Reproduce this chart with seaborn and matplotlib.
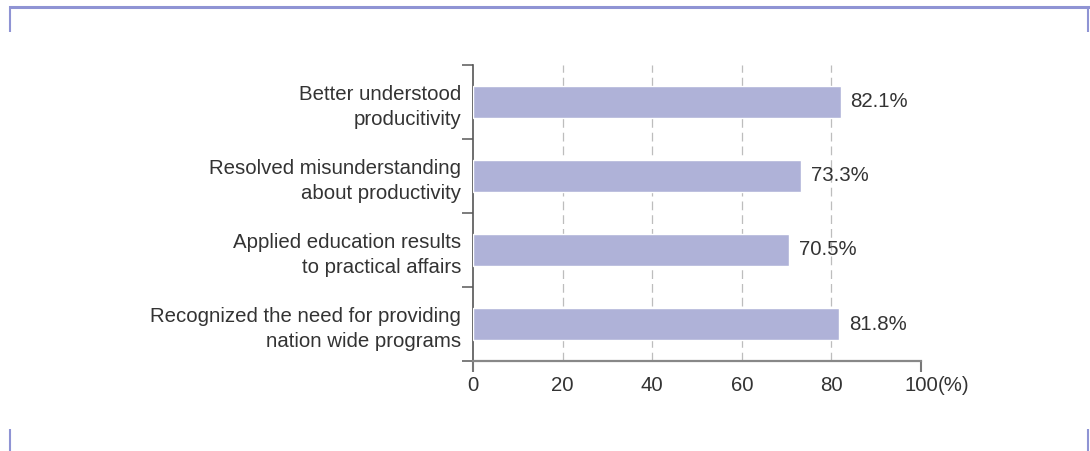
import matplotlib
matplotlib.use("Agg")
import matplotlib.pyplot as plt
from matplotlib.lines import Line2D
import seaborn as sns
import pandas as pd

categories = [
    "Better understood\nproducitivity",
    "Resolved misunderstanding\nabout productivity",
    "Applied education results\nto practical affairs",
    "Recognized the need for providing\nnation wide programs",
]
values = [82.1, 73.3, 70.5, 81.8]
x_ticks = [0, 20, 40, 60, 80, 100]
x_unit = "(%)"

sns.set_theme(style="white")
plt.rcParams["font.family"] = ["Liberation Sans", "DejaVu Sans"]

df = pd.DataFrame({"item": categories, "share": values})

W, H = 1090, 451
FS = 14.7
fig = plt.figure(figsize=(W / 100, H / 100), dpi=100)
ax = fig.add_axes([473 / W, 1 - 361 / H, (921 - 473) / W, (361 - 65) / H])

bar_color = "#afb2d8"
sns.barplot(data=df, y="item", x="share", orient="h", color=bar_color,
            width=0.42, saturation=1, ax=ax, zorder=3)

ax.set_xlim(0, 100)
ax.set_ylim(3.5, -0.5)
ax.set_xlabel("")
ax.set_ylabel("")

# dashed vertical grid
for v in x_ticks[1:-1]:
    ax.axvline(v, color="#bdbdbd", lw=0.9, ls=(0, (7, 4)), zorder=1)

text_color = "#333333"
ax.xaxis.remove_overlapping_locs = False
ax.set_xticks(x_ticks)
ax.set_xticklabels([str(t) for t in x_ticks])
ax.tick_params(axis="x", which="major", length=0, pad=11, labelsize=FS,
               labelcolor=text_color)
ax.set_xticks([0, 100], minor=True)
ax.tick_params(axis="x", which="minor", bottom=True, direction="out",
               length=8, width=1.5, color="#777777")

ax.set_yticks(range(len(categories)))
ax.set_yticklabels(categories)
ax.tick_params(axis="y", which="major", length=0, pad=8.5, labelsize=FS,
               labelcolor=text_color)
ax.set_yticks([i - 0.5 for i in range(len(categories) + 1)], minor=True)
ax.tick_params(axis="y", which="minor", left=True, direction="out",
               length=8, width=1.2, color="#666666")
for lbl in ax.get_yticklabels():
    lbl.set_horizontalalignment("right")
    lbl.set_linespacing(1.4)

for s in ["top", "right"]:
    ax.spines[s].set_visible(False)
ax.spines["left"].set_color("#555555")
ax.spines["left"].set_linewidth(1.2)
ax.spines["bottom"].set_color("#888888")
ax.spines["bottom"].set_linewidth(1.6)
ax.spines["bottom"].set_zorder(4)

# value labels at bar ends
for i, v in enumerate(values):
    ax.annotate(f"{v}%", xy=(v, i), xytext=(7, 0), textcoords="offset points",
                va="center", ha="left", fontsize=FS, color=text_color)

# unit next to the last tick label
ax.annotate(x_unit, xy=(100, 0), xycoords=("data", "axes fraction"),
            xytext=(12, -11), textcoords="offset points", va="top", ha="left",
            fontsize=FS, color=text_color)

# decorative frame corners
frame_color = "#8f94d4"
def fl(x0, y0, x1, y1, lw=2):
    fig.add_artist(Line2D([x0 / W, x1 / W], [1 - y0 / H, 1 - y1 / H],
                          color=frame_color, lw=lw, solid_capstyle="butt"))

fl(9, 6.5, W, 6.5, lw=2.2)
fl(10, 6, 10, 32, lw=1.5)
fl(1088, 6, 1088, 32, lw=1.5)
fl(10, 429, 10, H, lw=1.5)
fl(1088, 429, 1088, H, lw=1.5)

fig.savefig("out.png", dpi=100, facecolor="white")
